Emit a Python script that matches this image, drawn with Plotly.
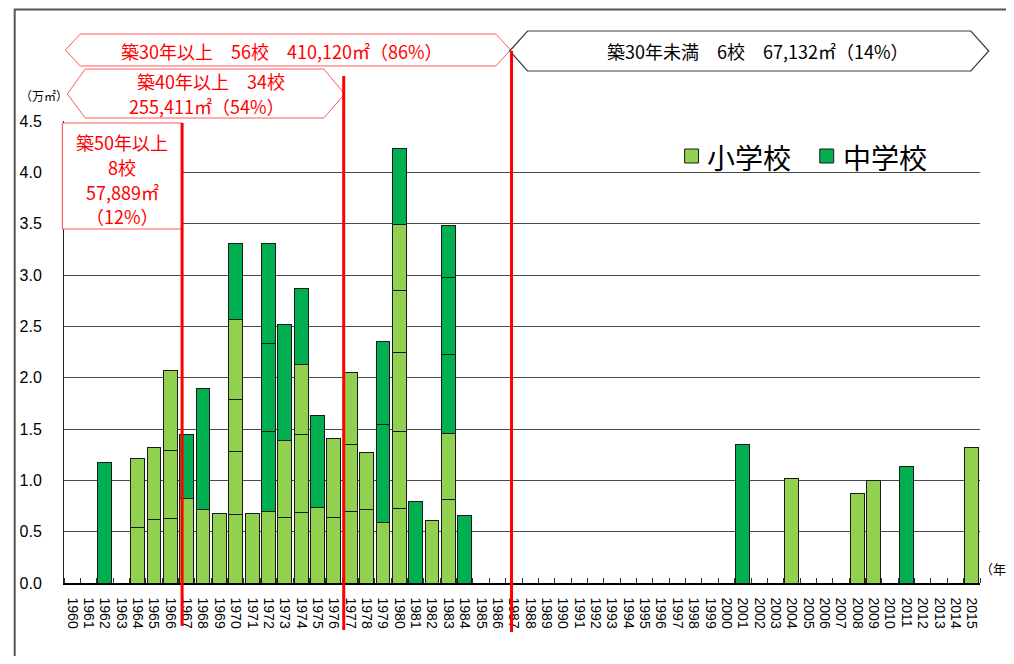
import plotly.graph_objects as go

# ---------------- data ----------------
years = list(range(1960, 2016))
year_labels = [str(y) for y in years]

# one entry per school building (segment), bottom to top inside each year
seg_year = [
    1962,
    1964, 1964,
    1965, 1965,
    1966, 1966, 1966,
    1967, 1967,
    1968, 1968,
    1969,
    1970, 1970, 1970, 1970, 1970,
    1971,
    1972, 1972, 1972, 1972,
    1973, 1973, 1973,
    1974, 1974, 1974, 1974,
    1975, 1975,
    1976, 1976,
    1977, 1977, 1977,
    1978, 1978,
    1979, 1979, 1979,
    1980, 1980, 1980, 1980, 1980, 1980,
    1981,
    1982,
    1983, 1983, 1983, 1983, 1983,
    1984,
    2001, 2004, 2008, 2009, 2011, 2015,
]
seg_school = [
    "中",
    "小", "小",
    "小", "小",
    "小", "小", "小",
    "小", "中",
    "小", "中",
    "小",
    "小", "小", "小", "小", "中",
    "小",
    "小", "中", "中", "中",
    "小", "小", "中",
    "小", "小", "小", "中",
    "小", "中",
    "小", "小",
    "小", "小", "小",
    "小", "小",
    "小", "中", "中",
    "小", "小", "小", "小", "小", "中",
    "中",
    "小",
    "小", "小", "中", "中", "中",
    "中",
    "中", "小", "小", "小", "中", "小",
]
seg_value = [
    1.17,
    0.54, 0.67,
    0.62, 0.70,
    0.63, 0.66, 0.78,
    0.82, 0.63,
    0.72, 1.17,
    0.68,
    0.67, 0.61, 0.51, 0.78, 0.74,
    0.68,
    0.70, 0.78, 0.85, 0.98,
    0.64, 0.75, 1.13,
    0.69, 0.76, 0.68, 0.74,
    0.74, 0.89,
    0.64, 0.77,
    0.70, 0.65, 0.70,
    0.72, 0.55,
    0.59, 0.95, 0.81,
    0.73, 0.75, 0.77, 0.60, 0.64, 0.74,
    0.79,
    0.61,
    0.81, 0.65, 0.77, 0.75, 0.50,
    0.66,
    1.35, 1.02, 0.87, 1.00, 1.13, 1.32,
]

school_names = {"小": "小学校", "中": "中学校"}
school_colors = {"小": "#92D050", "中": "#00B050"}

y_ticks = [0.0, 0.5, 1.0, 1.5, 2.0, 2.5, 3.0, 3.5, 4.0, 4.5]

# boundaries of the age groups (drawn between the year bars)
boundary_50 = 1966.72
boundary_40 = 1976.6
boundary_30 = 1986.86

# ---------------- build stacked segments ----------------
level_of = []
count = {}
for yr in seg_year:
    count[yr] = count.get(yr, 0) + 1
    level_of.append(count[yr])
max_level = max(level_of)

fig = go.Figure()
for lvl in range(1, max_level + 1):
    for sch in ["小", "中"]:
        xs = [seg_year[i] for i in range(len(seg_year)) if level_of[i] == lvl and seg_school[i] == sch]
        ys = [seg_value[i] for i in range(len(seg_year)) if level_of[i] == lvl and seg_school[i] == sch]
        if not xs:
            continue
        fig.add_trace(go.Bar(
            x=xs, y=ys, name=school_names[sch], width=0.85,
            marker=dict(color=school_colors[sch], line=dict(color="#1a1a1a", width=1)),
            showlegend=False, hoverinfo="x+y",
        ))

# ---------------- layout geometry (window pixels) ----------------
OFF = 8  # page body margin around the figure
W, H = 1014 - OFF, 664 - 2 * OFF
L, R, T, B = 58.6, 980.2, 121.0, 583.0   # plot area in window pixels


def px(x):
    return (x - L) / (R - L)


def py(y):
    return (B - y) / (B - T)


def poly(points):
    return "M " + " L ".join(f"{px(a):.5f},{py(b):.5f}" for a, b in points) + " Z"


JP = "Noto Sans CJK JP, Noto Sans, sans-serif"
NUM = "Liberation Sans, Arial, sans-serif"
RED = "#FF0000"
RED_LINE = "#FF5B5B"

shapes = []
annotations = []

# outer frame
shapes.append(dict(type="rect", xref="paper", yref="paper",
                   x0=px(9), x1=px(1040), y0=py(9.5), y1=py(700),
                   line=dict(color="#555555", width=2), layer="below"))

# arrow boxes
shapes.append(dict(type="path", xref="paper", yref="paper", layer="above",
                   path=poly([(60, 50), (75, 34), (493, 34), (508, 50), (493, 66), (75, 66)]),
                   line=dict(color=RED_LINE, width=1), fillcolor="white"))
shapes.append(dict(type="path", xref="paper", yref="paper", layer="above",
                   path=poly([(507, 51), (525, 31), (971, 31), (989, 51), (971, 71), (525, 71)]),
                   line=dict(color="#3a3a3a", width=1.2), fillcolor="white"))
shapes.append(dict(type="path", xref="paper", yref="paper", layer="above",
                   path=poly([(62, 94), (80, 69), (320, 69), (341, 94), (320, 118), (80, 118)]),
                   line=dict(color=RED_LINE, width=1), fillcolor="white"))
shapes.append(dict(type="rect", xref="paper", yref="paper", layer="above",
                   x0=px(57), x1=px(177), y0=py(123), y1=py(229),
                   line=dict(color=RED_LINE, width=1.2), fillcolor="white"))

# red boundary lines
shapes.append(dict(type="line", xref="x", yref="paper", layer="above",
                   x0=boundary_50, x1=boundary_50, y0=py(123), y1=py(626),
                   line=dict(color=RED, width=3)))
shapes.append(dict(type="line", xref="x", yref="paper", layer="above",
                   x0=boundary_40, x1=boundary_40, y0=py(76), y1=py(630),
                   line=dict(color=RED, width=3)))
shapes.append(dict(type="line", xref="x", yref="paper", layer="above",
                   x0=boundary_30, x1=boundary_30, y0=py(51), y1=py(632),
                   line=dict(color=RED, width=3)))

# legend squares
shapes.append(dict(type="rect", xref="paper", yref="paper", layer="above",
                   x0=px(683), x1=px(697), y0=py(149), y1=py(163),
                   line=dict(color="#1a1a1a", width=1), fillcolor=school_colors["小"]))
shapes.append(dict(type="rect", xref="paper", yref="paper", layer="above",
                   x0=px(819), x1=px(833), y0=py(149), y1=py(163),
                   line=dict(color="#1a1a1a", width=1), fillcolor=school_colors["中"]))


def text(x, y, s, size, color="black", xanchor="center", family=JP):
    annotations.append(dict(xref="paper", yref="paper", x=px(x), y=py(y), text=s,
                            showarrow=False, xanchor=xanchor, yanchor="middle",
                            font=dict(family=family, size=size, color=color)))


text(277, 51, "築30年以上　56校　410,120㎡（86%）", 18, RED)
text(756, 51, "築30年未満　6校　67,132㎡（14%）", 18, "black")
text(207, 81, "築40年以上　34校", 18, RED)
text(202, 106, "255,411㎡（54%）", 18, RED)
text(117, 142, "築50年以上", 18, RED)
text(117, 167, "8校", 18, RED)
text(117, 192, "57,889㎡", 18, RED)
text(117, 216, "（12%）", 18, RED)
text(704, 157, "小学校", 28, "black", xanchor="left")
text(840, 157, "中学校", 28, "black", xanchor="left")
text(38, 95, "（万㎡）", 12, "black")
text(978, 568, "（年度）", 13, "black", xanchor="left")

fig.update_layout(
    width=W, height=H,
    margin=dict(l=L - OFF, r=W - (R - OFF), t=T - OFF, b=H - (B - OFF), pad=0),
    paper_bgcolor="white", plot_bgcolor="white",
    barmode="stack", bargap=0.15,
    showlegend=False,
    shapes=shapes, annotations=annotations,
    font=dict(family=NUM, color="black"),
)
fig.update_xaxes(
    type="linear", range=[1959.5, 2015.5],
    tickmode="array", tickvals=years, ticktext=year_labels,
    tickangle=90, ticks="", ticklabelstandoff=10,
    tickfont=dict(family=NUM, size=14, color="black"),
    showgrid=False, zeroline=False,
    showline=True, linecolor="black", linewidth=1.5,
    minor=dict(tickmode="linear", tick0=1959.5, dtick=1, ticks="inside",
               ticklen=5, tickcolor="#333333", tickwidth=1, showgrid=False),
)
fig.update_yaxes(
    range=[0, 4.5], tickmode="array", tickvals=y_ticks,
    ticktext=[f"{v:.1f}" for v in y_ticks],
    tickfont=dict(family=NUM, size=16, color="black"),
    ticks="", ticklabelstandoff=18,
    showgrid=True, gridcolor="#4a4a4a", gridwidth=1,
    zeroline=False, showline=True, linecolor="#222222", linewidth=1,
)

fig.write_html("out.html")
